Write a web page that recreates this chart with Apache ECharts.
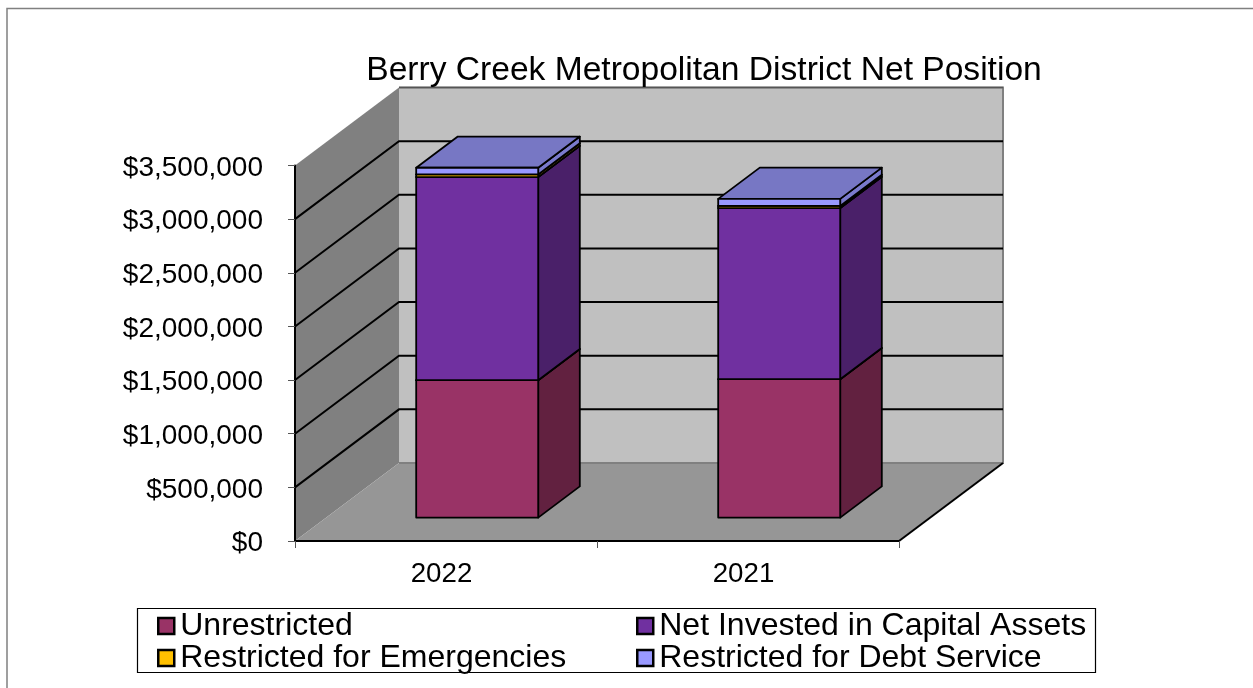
<!DOCTYPE html>
<html>
<head>
<meta charset="utf-8">
<style>html,body{margin:0;padding:0;background:#fff}#c{width:1253px;height:688px}</style>
<script src="https://cdn.jsdelivr.net/npm/echarts@6/dist/echarts.min.js"></script>
</head>
<body>
<div id="c"></div>
<script>
const titleText = 'Berry Creek Metropolitan District Net Position';
const categories = ['2022', '2021'];
const unrestricted = [1281000, 1290000];
const netInvested = [1893000, 1595000];
const emergencies = [25000, 20000];
const debtService = [62000, 66000];
const tickValues = [0, 500000, 1000000, 1500000, 2000000, 2500000, 3000000, 3500000];
const tickLabels = ['$0', '$500,000', '$1,000,000', '$1,500,000', '$2,000,000', '$2,500,000', '$3,000,000', '$3,500,000'];
const seriesNames = ['Unrestricted', 'Net Invested in Capital Assets', 'Restricted for Emergencies', 'Restricted for Debt Service'];

const FONT = '"Liberation Sans", Arial, sans-serif';
const DX = 104, DY = 78;              // full floor depth
const FRONT = 0.3, BACK = 0.7;        // bar position inside the depth
const BAR = 0.404;                    // bar width as share of the band
const shades = [
  { front: '#993366', side: '#622140', top: '#7a2952' },
  { front: '#7030a0', side: '#4a2069', top: '#5a2780' },
  { front: '#ffc000', side: '#a67d00', top: '#cc9a00' },
  { front: '#9999ff', side: '#7a7acc', top: '#7777c4' }
];
const layers = [unrestricted, netInvested, emergencies, debtService];

function poly(points, fill, stroke, lineWidth) {
  return { type: 'polygon', shape: { points }, style: { fill, stroke: stroke || null, lineWidth: lineWidth || 0, lineJoin: 'round' } };
}
function wallsItem(params) {
  const r = params.coordSys, L = r.x, R = r.x + r.width, T = r.y, B = r.y + r.height;
  return { type: 'group', children: [
    poly([[L + DX, T - DY], [R + DX, T - DY], [R + DX, B - DY], [L + DX, B - DY]], '#c0c0c0'),
    poly([[L, T], [L + DX, T - DY], [L + DX, B - DY], [L, B]], '#808080'),
    poly([[L, B], [R, B], [R + DX, B - DY], [L + DX, B - DY]], '#969696'),
    { type: 'polyline', shape: { points: [[L + DX, T - DY], [R + DX, T - DY], [R + DX, B - DY], [L + DX, B - DY]] }, style: { stroke: '#808080', lineWidth: 2, fill: null } },
    { type: 'polyline', shape: { points: [[L + DX, T - DY], [R + DX, T - DY]] }, style: { stroke: '#555', lineWidth: 1.5, fill: null } },
    { type: 'polyline', shape: { points: [[R, B], [R + DX, B - DY]] }, style: { stroke: '#000', lineWidth: 2, fill: null } }
  ] };
}
function gridItem(params, api) {
  const r = params.coordSys, L = r.x, R = r.x + r.width;
  const y = api.coord([0, api.value(0)])[1];
  return { type: 'polyline', shape: { points: [[L, y], [L + DX, y - DY], [R + DX, y - DY]] }, style: { stroke: '#000', lineWidth: 2, fill: null } };
}
function barItem(layer) {
  return function (params, api) {
    const i = api.value(0), c = shades[layer];
    const p0 = api.coord([i, api.value(1)]), p1 = api.coord([i, api.value(2)]);
    const w = api.size([1, 0])[0] * BAR;
    const fx = FRONT * DX, fy = FRONT * DY, bx = BACK * DX, by = BACK * DY;
    const x0 = p0[0] - w / 2 + fx, x1 = x0 + w;
    const yb = p0[1] - fy, yt = p1[1] - fy;
    const ox = bx - fx, oy = by - fy;
    return { type: 'group', children: [
      poly([[x1, yb], [x1 + ox, yb - oy], [x1 + ox, yt - oy], [x1, yt]], c.side, '#000', 1.8),
      poly([[x0, yt], [x1, yt], [x1 + ox, yt - oy], [x0 + ox, yt - oy]], c.top, '#000', 1.8),
      poly([[x0, yb], [x1, yb], [x1, yt], [x0, yt]], c.front, '#000', 1.8)
    ] };
  };
}

const running = categories.map(() => 0);
const barSeries = layers.map((values, k) => ({
  type: 'custom',
  name: seriesNames[k],
  renderItem: barItem(k),
  clip: false,
  z: 5,
  silent: true,
  itemStyle: { color: shades[k].front },
  encode: { x: 0, y: [1, 2] },
  data: values.map((v, i) => {
    const base = running[i];
    running[i] += v;
    return [i, base, running[i]];
  })
}));

const legendSpots = [[157, 610], [636, 610], [157, 642], [636, 642]];
const chart = echarts.init(document.getElementById('c'), null, { renderer: 'canvas' });
chart.setOption({
  animation: false,
  backgroundColor: '#fff',
  title: {
    text: titleText, left: 699, top: 49, textAlign: 'center',
    textStyle: { fontFamily: FONT, fontSize: 33.6, fontWeight: 'normal', color: '#000' }
  },
  grid: { left: 295, top: 165.5, width: 604, height: 375.5 },
  xAxis: {
    type: 'category', data: categories, boundaryGap: true, z: 10,
    axisLine: { show: true, lineStyle: { color: '#000', width: 2 } },
    axisTick: { show: true, length: 7, alignWithLabel: false, lineStyle: { color: '#555', width: 1 } },
    axisLabel: { fontFamily: FONT, fontSize: 27.7, color: '#000', margin: 19, padding: [0, 9, 0, 0] }
  },
  yAxis: {
    type: 'value', min: 0, max: 3500000, interval: 500000, z: 10,
    axisLine: { show: true, lineStyle: { color: '#000', width: 2 } },
    axisTick: { show: true, length: 7, lineStyle: { color: '#555', width: 1 } },
    splitLine: { show: false },
    axisLabel: {
      fontFamily: FONT, fontSize: 28, color: '#000', margin: 32, lineHeight: 28,
      verticalAlign: 'top', padding: [-11.5, 0, 0, 0],
      formatter: v => tickLabels[tickValues.indexOf(v)]
    }
  },
  legend: seriesNames.map((n, k) => ({
    data: [n], left: legendSpots[k][0], top: legendSpots[k][1], padding: 0,
    itemWidth: 16, itemHeight: 16, itemGap: 6, icon: 'rect', selectedMode: false,
    itemStyle: { borderColor: '#000', borderWidth: 2.5 },
    textStyle: { fontFamily: FONT, fontSize: 32, color: '#000', padding: [0, 0, 0, 1] }
  })),
  graphic: [
    { type: 'polyline', silent: true, shape: { points: [[7, 688], [7, 8.5], [1253, 8.5]] }, style: { stroke: '#808080', lineWidth: 1.5, fill: null } },
    { type: 'rect', silent: true, z: -1, shape: { x: 137.5, y: 608.5, width: 958, height: 64 }, style: { fill: '#fff', stroke: '#000', lineWidth: 1.2 } }
  ],
  series: [
    { type: 'custom', renderItem: wallsItem, data: [[0]], clip: false, silent: true, z: 1, encode: { x: -1, y: -1 } },
    { type: 'custom', renderItem: gridItem, data: tickValues.slice(1, -1).map(v => [v]), clip: false, silent: true, z: 2, encode: { x: -1, y: 0 } }
  ].concat(barSeries)
});
</script>
</body>
</html>
